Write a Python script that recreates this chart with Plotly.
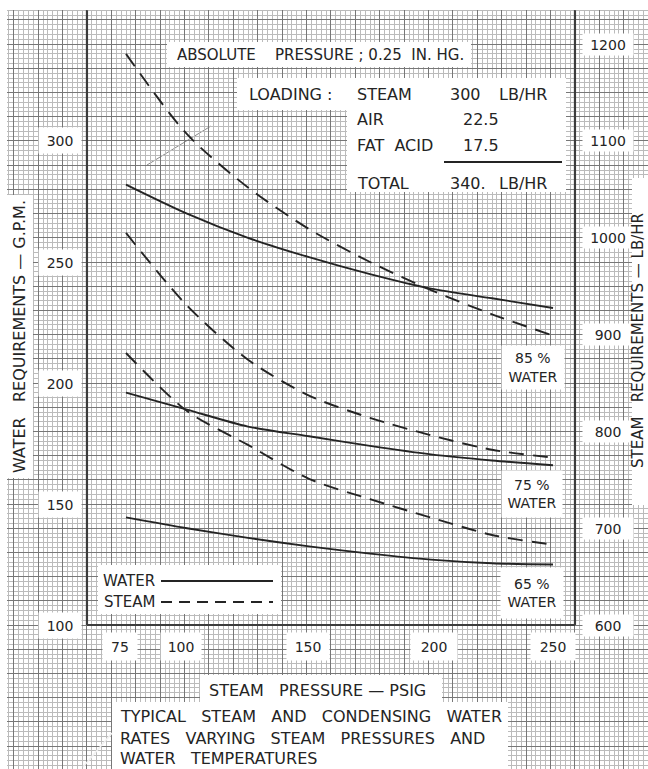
import plotly.graph_objects as go

# ---------------- data ----------------
pressure_psig = [75, 100, 125, 150, 175, 200, 225, 250]

water_85 = [282, 270, 260, 252, 245, 239, 235, 231]
water_75 = [196, 189, 182, 178, 174, 170.5, 168, 166]
water_65 = [144.5, 140, 136, 132.5, 129.5, 127, 125.5, 125]

steam_85 = [1190, 1107, 1052, 1009, 975, 946, 921, 899]
steam_75 = [1005, 930, 874, 837, 814, 796, 781, 773]
steam_65 = [881, 821, 786, 751, 730, 711, 693, 683]

x_tick_vals = [75, 100, 150, 200, 250]
water_tick_vals = [100, 150, 200, 250, 300]
steam_tick_vals = [600, 700, 800, 900, 1000, 1100, 1200]

# ---------------- layout helpers ----------------
W, H = 648, 769
FONT = "DejaVu Sans"
INK = "#242424"
NB = "\u00a0"


def sp(n):
    return NB * n


def fx(p):
    return p / W


def fy(p):
    return 1 - p / H


X_RANGE = [23.36, 288.93]
Y_RANGE = [40.5, 358.26]
Y2_RANGE = [600 + 2.5 * (Y_RANGE[0] - 100), 600 + 2.5 * (Y_RANGE[1] - 100)]

fig = go.Figure()

for wv in [water_85, water_75, water_65]:
    fig.add_trace(go.Scatter(x=pressure_psig, y=wv, mode="lines",
                             line=dict(color=INK, width=1.9, shape="spline", smoothing=0.8),
                             yaxis="y", showlegend=False, hoverinfo="skip"))
for sv in [steam_85, steam_75, steam_65]:
    fig.add_trace(go.Scatter(x=pressure_psig, y=sv, mode="lines",
                             line=dict(color=INK, width=1.9, shape="spline",
                                       smoothing=0.8, dash="15px,9px"),
                             yaxis="y2", showlegend=False, hoverinfo="skip"))

shapes = []


def white_rect(x0, y0, x1, y1):
    shapes.append(dict(type="rect", xref="paper", yref="paper", layer="above",
                       x0=fx(x0), x1=fx(x1), y0=fy(y1), y1=fy(y0),
                       fillcolor="white", line=dict(width=0)))


def paper_line(x0, y0, x1, y1, color, width, dash=None, layer="above"):
    ln = dict(color=color, width=width)
    if dash:
        ln["dash"] = dash
    shapes.append(dict(type="line", xref="paper", yref="paper", layer=layer,
                       x0=fx(x0), x1=fx(x1), y0=fy(y0), y1=fy(y1), line=ln))


# frame of the plotting field
FRAME_L, FRAME_R = 59, 259
for xv in [FRAME_L, FRAME_R]:
    shapes.append(dict(type="line", xref="x", yref="y", x0=xv, x1=xv,
                       y0=100, y1=354, line=dict(color="#3c3c3c", width=2.2)))
shapes.append(dict(type="line", xref="x", yref="y", x0=FRAME_L, x1=FRAME_R,
                   y0=100, y1=100, line=dict(color="#3c3c3c", width=2.2)))

# unprinted paper edges and lettering panels
white_rect(0, 0, W, 10)
white_rect(0, 0, 7, H)
white_rect(7, 195, 33, 478)
white_rect(632, 178, W, 505)
white_rect(167, 42, 471, 67)
white_rect(237, 78, 566, 110)
white_rect(347, 78, 566, 192)
white_rect(98, 565, 281, 614)
white_rect(112, 702, 508, 769)
white_rect(200, 675, 442, 704)

# legend samples and the underline in the loading table
paper_line(161, 581, 273, 581, INK, 1.9)
paper_line(161, 602, 273, 602, INK, 1.9, dash="11px,7px")
paper_line(444, 162, 562, 162, INK, 2)

# stray pencil strokes on the sheet
paper_line(147, 165, 211, 126, "#8a8a8a", 1, layer="below")
paper_line(83, 767, 112, 733, "#f2f2f2", 1.5)

annotations = []


def text(t, x, y, size=16, xanchor="center", **kw):
    d = dict(text=t, xref="paper", yref="paper", x=fx(x), y=fy(y),
             xanchor=xanchor, yanchor="middle", showarrow=False,
             font=dict(family=FONT, size=size, color=INK))
    d.update(kw)
    annotations.append(d)


def boxed(t, x, y, w, h, size=14, **kw):
    text(t, x, y, size=size, bgcolor="white", width=w, height=h, borderpad=0, **kw)


# tick labels in white boxes (hand-lettered boxes sit slightly off their grid lines)
x_box_w = {75: 34, 100: 40, 150: 42, 200: 46, 250: 44}
x_box_shift = {75: -6, 100: -6, 150: -1, 200: 3, 250: 0}
for v in x_tick_vals:
    annotations.append(dict(text=str(v), xref="x", yref="paper", x=v, y=fy(646),
                            xshift=x_box_shift[v],
                            xanchor="center", yanchor="middle", showarrow=False,
                            bgcolor="white", width=x_box_w[v], height=27, borderpad=0,
                            font=dict(family=FONT, size=14, color=INK)))
for v in water_tick_vals:
    annotations.append(dict(text=str(v), xref="paper", yref="y", x=fx(60), y=v,
                            xanchor="center", yanchor="middle", showarrow=False,
                            bgcolor="white", width=42, height=25, borderpad=0,
                            font=dict(family=FONT, size=14, color=INK)))
for v in steam_tick_vals:
    annotations.append(dict(text=str(v), xref="paper", yref="y2", x=fx(608), y=v,
                            xanchor="center", yanchor="middle", showarrow=False,
                            bgcolor="white", width=50, height=21, borderpad=0,
                            font=dict(family=FONT, size=14, color=INK)))

# header notes
text(f"ABSOLUTE{sp(4)}PRESSURE ; 0.25{sp(2)}IN. HG.", 175, 55, size=15, xanchor="left")
text(f"LOADING{sp(1)}:", 247, 94, xanchor="left")
text("STEAM", 355, 94, xanchor="left")
text("300", 448, 94, xanchor="left")
text("LB/HR", 497, 94, xanchor="left")
text("AIR", 355, 119, xanchor="left")
text("22.5", 461, 119, xanchor="left")
text(f"FAT{sp(2)}ACID", 355, 145, xanchor="left")
text("17.5", 461, 145, xanchor="left")
text("TOTAL", 355, 183, xanchor="left")
text("340.", 448, 183, xanchor="left")
text("LB/HR", 497, 183, xanchor="left")

# curve labels
boxed("85 %<br>WATER", 533, 367, 62, 43)
boxed("75 %<br>WATER", 532, 494, 60, 46)
boxed("65 %<br>WATER", 532, 593, 62, 50)

# legend text
text("WATER", 101, 581, size=15, xanchor="left")
text("STEAM", 102, 602, size=15, xanchor="left")

# axis titles
text(f"STEAM{sp(3)}PRESSURE — PSIG", 207, 690, xanchor="left")
text(f"WATER{sp(3)}REQUIREMENTS — G.P.M.", 19, 337, textangle=-90)
text(f"STEAM{sp(3)}REQUIREMENTS — LB/HR", 638, 341, size=15, textangle=-90)

# caption
text(f"TYPICAL{sp(3)}STEAM{sp(3)}AND{sp(3)}CONDENSING{sp(3)}WATER", 118, 716, xanchor="left")
text(f"RATES{sp(3)}VARYING{sp(3)}STEAM{sp(3)}PRESSURES{sp(3)}AND", 118, 738, xanchor="left")
text(f"WATER{sp(3)}TEMPERATURES", 118, 758, xanchor="left")

grid_major = "#777777"
grid_minor = "#bbbbbb"

fig.update_layout(
    width=W, height=H,
    margin=dict(l=0, r=0, t=0, b=0),
    paper_bgcolor="white", plot_bgcolor="white",
    showlegend=False,
    xaxis=dict(range=X_RANGE, tickmode="linear", tick0=FRAME_L, dtick=10,
               showgrid=True, gridcolor=grid_major, gridwidth=1.1,
               minor=dict(tick0=FRAME_L, dtick=2, showgrid=True,
                          gridcolor=grid_minor, gridwidth=0.8),
               showticklabels=False, ticks="", zeroline=False, showline=False,
               fixedrange=True),
    yaxis=dict(range=Y_RANGE, tickmode="linear", tick0=100, dtick=10,
               showgrid=True, gridcolor=grid_major, gridwidth=1.1,
               minor=dict(tick0=100, dtick=2, showgrid=True,
                          gridcolor=grid_minor, gridwidth=0.8),
               showticklabels=False, ticks="", zeroline=False, showline=False,
               fixedrange=True),
    yaxis2=dict(range=Y2_RANGE, overlaying="y", side="right", showgrid=False,
                showticklabels=False, ticks="", zeroline=False, showline=False,
                fixedrange=True),
    shapes=shapes,
    annotations=annotations,
)

fig.write_html(
    "out.html",
    config={"displayModeBar": False},
    post_script="document.body.style.margin='0';document.body.style.overflow='hidden';",
)
